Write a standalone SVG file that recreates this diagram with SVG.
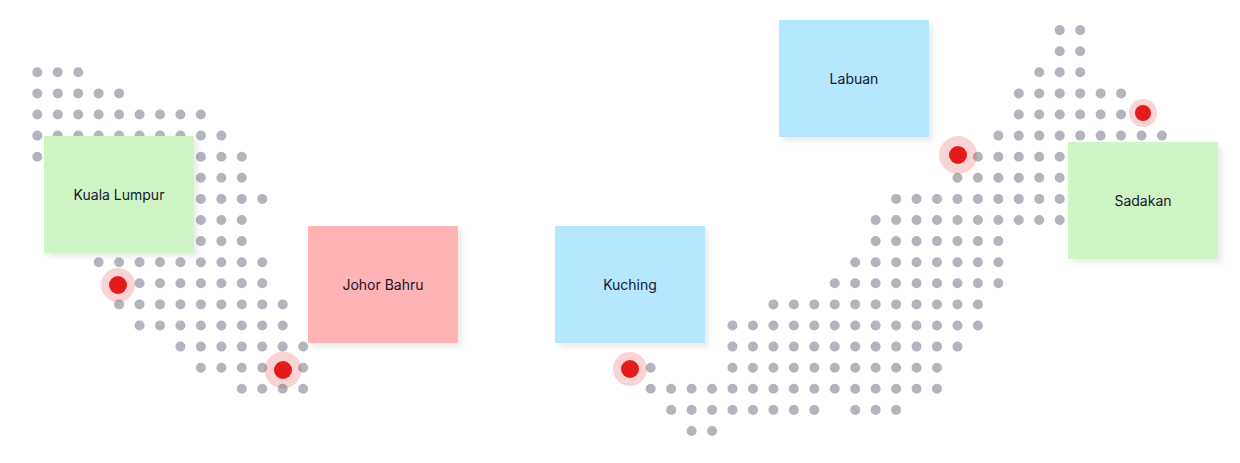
<svg xmlns="http://www.w3.org/2000/svg" width="1240" height="463" viewBox="0 0 1240 463">
<defs>
<filter id="sh" x="-10%" y="-10%" width="125%" height="130%"><feDropShadow dx="4" dy="4" stdDeviation="2.6" flood-color="#000" flood-opacity="0.08"/></filter>
</defs>
<style>
#dots path{fill:none;stroke:#b2b5bd;stroke-width:10;stroke-linecap:round;stroke-dasharray:0 20.45}
.box{filter:url(#sh)}
.g{fill:#d0f5c4}.p{fill:#ffb3b5}.b{fill:#b5e8ff}
.ring{fill:#e31b1b;fill-opacity:.19}.core{fill:#e31b1b}
text{font-family:"Inter","Noto Sans",sans-serif;font-size:14px;fill:#14172e;text-anchor:middle}
</style>
<rect width="1240" height="463" fill="#fff"/>
<g id="dots">
<path d="M37.3 72.3h41.9M37.3 93.4h82.8M37.3 114.5h164.6M37.3 135.6h185.05M37.3 156.7h205.5M200.9 177.8h41.9M200.9 198.9h62.35M200.9 220h41.9M200.9 241.1h41.9M98.65 262.2h164.6M139.55 283.3h123.7M119.1 304.4h164.6M139.55 325.5h144.15M180.45 346.6h123.7M200.9 367.7h103.25M241.8 388.8h62.35"/>
<path d="M1059.7 30.1h21.45M1059.7 51.2h21.45M1039.25 72.3h41.9M1018.8 93.4h103.25M1018.8 114.5h103.25M998.35 135.6h164.6M977.9 156.7h82.8M957.45 177.8h103.25M896.1 198.9h164.6M875.65 220h185.05M875.65 241.1h123.7M855.2 262.2h144.15M834.75 283.3h164.6M773.4 304.4h205.5M732.5 325.5h246.4M732.5 346.6h225.95M650.7 367.7h1M732.5 367.7h205.5M650.7 388.8h287.3M671.15 409.9h144.15M855.2 409.9h41.9M691.6 431h21.45"/>
</g>
<g id="connectors"></g>
<g id="kuala-lumpur"><rect class="box g" x="44" y="136" width="150" height="117" rx="1"/><text x="119" y="200">Kuala Lumpur</text></g>
<g id="johor-bahru"><rect class="box p" x="308" y="226" width="150" height="117" rx="1"/><text x="383" y="290">Johor Bahru</text></g>
<g id="kuching"><rect class="box b" x="555" y="226" width="150" height="117" rx="1"/><text x="630" y="290">Kuching</text></g>
<g id="labuan"><rect class="box b" x="779" y="20" width="150" height="117" rx="1"/><text x="854" y="84">Labuan</text></g>
<g id="sadakan"><rect class="box g" x="1068" y="142" width="150" height="117" rx="1"/><text x="1143" y="206">Sadakan</text></g>
<g id="pin-kuala-lumpur"><circle class="ring" cx="118" cy="285" r="17"/><circle class="core" cx="118" cy="285" r="9"/></g>
<g id="pin-johor-bahru"><circle class="ring" cx="283" cy="370" r="18.5"/><circle class="core" cx="283" cy="370" r="9"/></g>
<g id="pin-kuching"><circle class="ring" cx="630" cy="369" r="17"/><circle class="core" cx="630" cy="369" r="9"/></g>
<g id="pin-labuan"><circle class="ring" cx="958" cy="155" r="19"/><circle class="core" cx="958" cy="155" r="9"/></g>
<g id="pin-sadakan"><circle class="ring" cx="1143" cy="113" r="14"/><circle class="core" cx="1143" cy="113" r="8"/></g>
</svg>
